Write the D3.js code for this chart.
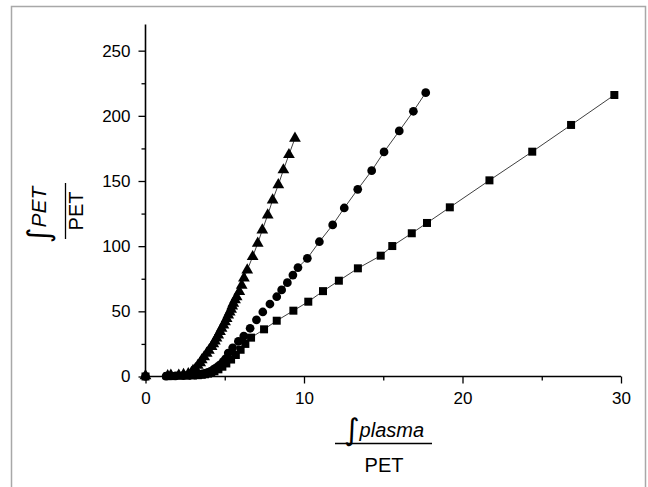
<!DOCTYPE html>
<html><head><meta charset="utf-8">
<script src="https://cdn.jsdelivr.net/npm/d3@7/dist/d3.min.js"></script>
<style>body{margin:0;background:#fff}svg{display:block}</style>
</head><body>
<script>
// Data
const triangleX = [0,1.4,1.6,2.1,2.4,2.7,2.9,3.0,3.15,3.3,3.45,3.55,3.7,3.86,4.0,4.17,4.28,4.38,4.48,4.59,4.7,4.8,4.92,5.02,5.12,5.22,5.31,5.4,5.47,5.54,5.65,5.75,5.92,6.07,6.21,6.42,6.76,7.08,7.37,7.71,8.02,8.38,8.7,9.05,9.43];
const triangleY = [0.5,0.5,1,1,1.5,2,3,4.5,6,8.5,10.5,12.7,15,17.8,20,22.9,25,27.2,29.5,31.8,34.5,37,39.5,42,44.5,47.2,49.4,51.6,54,56.2,58.8,61.2,65.1,70,75.5,81.7,91.9,102.2,112.4,123.9,135.4,147,158.5,170.2,182.8];
const circleX = [0,1.3,1.9,2.4,2.8,3.1,3.3,3.5,3.65,3.8,3.95,4.1,4.25,4.4,4.55,4.7,4.9,5.05,5.22,5.5,5.86,6.2,6.6,7.0,7.4,7.85,8.28,8.59,8.95,9.3,9.62,10.21,10.97,11.81,12.54,13.39,14.27,15.05,16.01,16.9,17.68];
const circleY = [0,0.3,0.5,0.8,1,1.3,1.6,1.8,2.2,2.6,3.2,4,5,6.2,7.5,9,11.5,13.5,18,22,27,31,37,43.5,49.5,55.6,61.2,66.4,72,77.8,83.6,90.7,103.4,116.3,129.3,143.6,157.9,172.3,188.4,203.5,217.8];
const squareX = [0,1.4,1.6,2.2,2.6,3.0,3.3,3.55,3.75,3.95,4.15,4.35,4.6,4.85,5.1,5.4,5.7,6.0,6.3,6.66,7.48,8.28,9.33,10.27,11.2,12.2,13.4,14.84,15.57,16.8,17.76,19.2,21.7,24.4,26.85,29.58];
const squareY = [0,0.3,0.3,0.5,0.6,0.8,1,1.3,1.7,2.2,3,4,5.5,7.5,10,13,16.5,20.5,25,29.8,36.2,42.8,50.5,57.4,65.5,73.5,83,92.7,100.1,109.9,117.8,129.8,150.5,172.5,193,216];
// start of the linear (fitted) portion of each series
const fitStart = {triangle: 5.7, circle: 8.2, square: 6.6};
const xTicks = [0,10,20,30];
const xMinor = [5,15,25];
const yTicks = [0,50,100,150,200,250];
const yMinor = [25,75,125,175,225];

const W = 648, H = 487;
const svg = d3.select("body").append("svg").attr("width", W).attr("height", H);
const font = "'Liberation Sans', Arial, sans-serif";

// frame
svg.append("path").attr("d", `M11.5,${H+2} V6.5 H645.5 V${H+2}`)
  .attr("fill","none").attr("stroke","#a8a8a8").attr("stroke-width",1.5);

const x = d3.scaleLinear().domain([0,30]).range([145.5,621]);
const y = d3.scaleLinear().domain([0,270]).range([376.5,24.6]);

const series = [
  {name:"square", xs:squareX, ys:squareY},
  {name:"circle", xs:circleX, ys:circleY},
  {name:"triangle", xs:triangleX, ys:triangleY}
].map(s => ({...s, pts: s.xs.map((v,i)=>({x:v, y:s.ys[i]}))}));

// fitted lines through the linear part
const line = d3.line().x(d=>x(d.x)).y(d=>y(d.y));
series.forEach(s => {
  const pts = s.pts.filter(p => p.x >= fitStart[s.name]);
  svg.append("path").attr("d", line(pts)).attr("fill","none")
    .attr("stroke","#404040").attr("stroke-width",1);
});

// markers
const sym = {square: d3.symbolSquare, circle: d3.symbolCircle, triangle: d3.symbolTriangle};
const size = {square: 64, circle: 60, triangle: 60};
series.forEach(s => {
  svg.append("g").selectAll("path").data(s.pts).join("path")
    .attr("transform", d=>`translate(${x(d.x)},${y(d.y)})`)
    .attr("d", d3.symbol().type(sym[s.name]).size(size[s.name]))
    .attr("fill","#000");
});

// axes
const xAxis = svg.append("g").attr("transform","translate(0,376.5)")
  .call(d3.axisBottom(x).tickValues(xTicks).tickSize(7).tickPadding(8).tickFormat(d3.format("d")));
svg.append("g").attr("transform","translate(0,376.5)")
  .call(d3.axisBottom(x).tickValues(xMinor).tickSize(4).tickFormat(""))
  .select(".domain").remove();
const yAxis = svg.append("g").attr("transform","translate(145.5,0)")
  .call(d3.axisLeft(y).tickValues(yTicks).tickSize(7).tickPadding(8).tickFormat(d3.format("d")));
svg.append("g").attr("transform","translate(145.5,0)")
  .call(d3.axisLeft(y).tickValues(yMinor).tickSize(4).tickFormat(""))
  .select(".domain").remove();
svg.selectAll(".domain").attr("stroke","#000").attr("stroke-width",1.6);
svg.selectAll(".tick line").attr("stroke","#000").attr("stroke-width",1.3);
svg.selectAll(".tick text").attr("font-family",font).attr("font-size",17).attr("fill","#000");
xAxis.select(".domain").attr("d", `M145.5,0 H621`);
yAxis.select(".domain").attr("d", `M0,376.5 V24.6`);

// x axis label
const xl = svg.append("g").attr("font-family",font).attr("fill","#000");
xl.append("text").attr("x",384).attr("y",437).attr("text-anchor","middle")
  .attr("font-size",20).attr("font-style","italic")
  .html('<tspan font-size="30" font-style="italic" font-family="DejaVu Sans" dy="3">∫</tspan><tspan dy="-3">plasma</tspan>');
xl.append("line").attr("x1",335).attr("x2",432).attr("y1",443.5).attr("y2",443.5)
  .attr("stroke","#000").attr("stroke-width",1.3);
xl.append("text").attr("x",384).attr("y",471.5).attr("text-anchor","middle")
  .attr("font-size",20).text("PET");

// y axis label (rotated)
const yl = svg.append("g").attr("font-family",font).attr("fill","#000")
  .attr("transform","translate(0,211) rotate(-90)");
yl.append("text").attr("x",-4).attr("y",46).attr("text-anchor","middle")
  .attr("font-size",21).attr("font-style","italic")
  .html('<tspan font-size="30" font-style="italic" font-family="DejaVu Sans" dy="3">∫</tspan><tspan dy="-3">PET</tspan>');
yl.append("line").attr("x1",-28).attr("x2",28).attr("y1",65.5).attr("y2",65.5)
  .attr("stroke","#000").attr("stroke-width",1.3);
yl.append("text").attr("x",0).attr("y",83).attr("text-anchor","middle")
  .attr("font-size",20).text("PET");
</script>
</body></html>
